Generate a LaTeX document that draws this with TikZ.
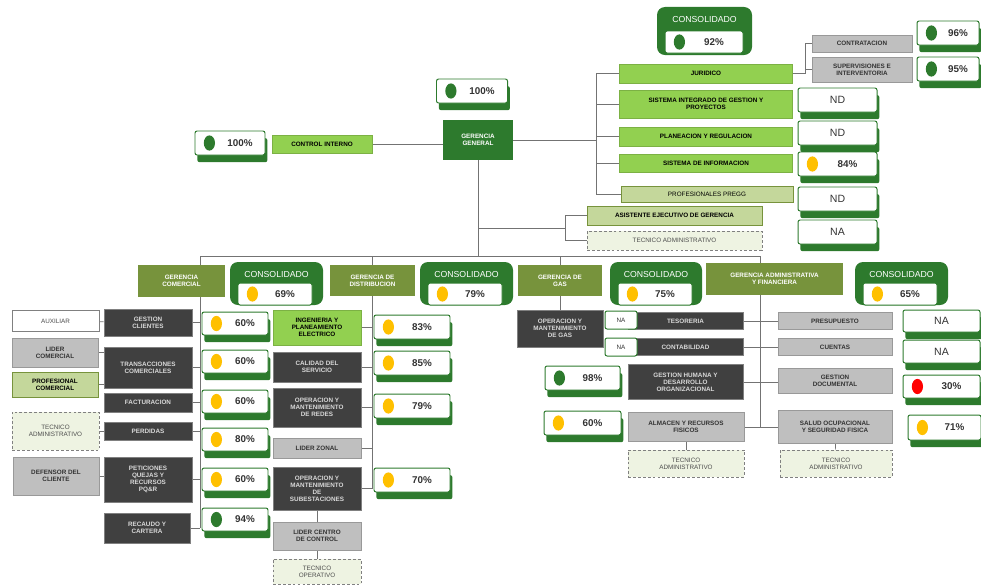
\documentclass[tikz,border=0pt]{standalone}
\usepackage{fontspec}
\setmainfont{Liberation Sans}
\usepackage{tikz}
\usetikzlibrary{shadows,backgrounds,positioning}
\definecolor{dgreen}{HTML}{2D7A2D}
\definecolor{lgreen}{HTML}{92D050}
\definecolor{olive}{HTML}{77933C}
\definecolor{lolive}{HTML}{C4D79B}
\definecolor{dgray}{HTML}{404040}
\definecolor{lgray}{HTML}{BFBFBF}
\definecolor{pale}{HTML}{EEF3E2}
\definecolor{ylw}{HTML}{FFC000}
\definecolor{rd}{HTML}{FF0000}

\begin{document}
\begin{tikzpicture}[x=0.25mm, y=-0.25mm,
	every node/.style={align=center, inner sep=1pt, font=\fontsize{4.5}{5}\selectfont\bfseries},
	sz/.style 2 args={minimum width=#1*0.25mm, minimum height=#2*0.25mm},
	lgr/.style={fill=lgreen, draw=lgreen!85!black},
	olv/.style={fill=olive, text=white},
	pal/.style={fill=lolive, draw=olive, line width=0.6pt},
	drk/.style={fill=dgray, draw=gray, text=white!85!black},
	gry/.style={fill=lgray, draw=gray!80, text=black!80},
	dsh/.style={fill=pale, draw=gray, dash pattern=on 2pt off 1.5pt, text=black!70, font=\fontsize{4.5}{5}\selectfont},
	ind/.style={fill=white, draw=dgreen, line width=0.7pt, rounded corners=1.5pt, text=black!80, font=\fontsize{7}{8}\selectfont\bfseries},
	sh/.style={general shadow={fill=dgreen, shadow xshift=0.6mm, shadow yshift=-1.8mm}},
	bul/.style={execute at begin node=\hspace*{5mm}, path picture={\fill[#1] ([xshift=3.6mm]path picture bounding box.west) ellipse [x radius=1.4mm, y radius=1.9mm];}},
	nd/.style={ind, sh, font=\fontsize{7.5}{8}\selectfont},
	cons/.style={fill=dgreen, rounded corners=2mm, text=white, font=\fontsize{6.2}{7}\selectfont, text height=3.4mm, text depth=#1},
	ln/.style={draw=black!55, line width=0.5pt}]
\useasboundingbox (0,0) rectangle (981,586);

\node[cons=7.9mm, sz={95}{1}] (cs0) at (704.5,31) {CONSOLIDADO};
\node[ind, bul=dgreen, sz={78}{22}] (cv0) at (704,42) {92\%};
\node[fill=dgreen, text=white, sz={70}{40}] (gg) at (478,140) {GERENCIA\\GENERAL};
\node[ind, sh, bul=dgreen, sz={71}{24}] (igg) at (472,91) {100\%};
\node[lgr, sz={100}{18}] (ci) at (322,144) {CONTROL INTERNO};
\node[ind, sh, bul=dgreen, sz={70}{24}] (ici) at (230,143) {100\%};

\node[lgr, sz={173}{19}] (jur) at (706,73.5) {JURIDICO};
\node[lgr, sz={173}{28}] (sig) at (706,104) {SISTEMA INTEGRADO DE GESTION Y\\PROYECTOS};
\node[lgr, sz={173}{19}] (pla) at (706,136.5) {PLANEACION Y REGULACION};
\node[lgr, sz={173}{18}] (sin) at (706,163) {SISTEMA DE INFORMACION};
\node[pal, sz={172}{16}, font=\fontsize{4.5}{5}\selectfont] (pre) at (707,194) {PROFESIONALES PREGG};
\node[gry, sz={100}{17}] (ctr) at (862,43.5) {CONTRATACION};
\node[gry, sz={100}{25}] (sup) at (862,69.5) {SUPERVISIONES E\\INTERVENTORIA};
\node[ind, sh, bul=dgreen, sz={62}{24}] (i96) at (948,33) {96\%};
\node[ind, sh, bul=dgreen, sz={62}{24}] (i95) at (948,69) {95\%};
\node[nd, sz={79}{24}] (nd1) at (837.5,100) {ND};
\node[nd, sz={79}{24}] (nd2) at (837.5,133) {ND};
\node[ind, sh, bul=ylw, sz={79}{24}] (i84) at (837.5,164) {84\%};
\node[nd, sz={79}{24}] (nd3) at (837.5,199) {ND};
\node[nd, sz={79}{24}] (na0) at (837.5,232) {NA};
\node[pal, sz={175}{19}] (ase) at (674.5,215.5) {ASISTENTE EJECUTIVO DE GERENCIA};
\node[dsh, sz={175}{19}] (tad0) at (674.5,240.5) {TECNICO ADMINISTRATIVO};

\node[olv, sz={87}{32}] (gco) at (181.5,281) {GERENCIA\\COMERCIAL};
\node[cons=6.65mm, sz={93}{1}] (cs1) at (276.5,283.5) {CONSOLIDADO};
\node[ind, bul=ylw, sz={74}{22}] (cv1) at (275,294) {69\%};
\node[olv, sz={85}{31}] (gdi) at (372.5,280.5) {GERENCIA DE\\DISTRIBUCION};
\node[cons=6.65mm, sz={93}{1}] (cs2) at (466.5,283.5) {CONSOLIDADO};
\node[ind, bul=ylw, sz={74}{22}] (cv2) at (465,294) {79\%};
\node[olv, sz={84}{31}] (gga) at (560,280.5) {GERENCIA DE\\GAS};
\node[cons=6.65mm, sz={92}{1}] (cs3) at (656,283.5) {CONSOLIDADO};
\node[ind, bul=ylw, sz={74}{22}] (cv3) at (655,294) {75\%};
\node[olv, sz={137}{32}] (gad) at (774.5,279) {GERENCIA ADMINISTRATIVA\\Y FINANCIERA};
\node[cons=6.65mm, sz={93}{1}] (cs4) at (901.5,283.5) {CONSOLIDADO};
\node[ind, bul=ylw, sz={74}{22}] (cv4) at (900,294) {65\%};

\node[drk, sz={88}{27}] (gcl) at (148,322.5) {GESTION\\CLIENTES};
\node[drk, sz={88}{41}] (tco) at (148,367.5) {TRANSACCIONES\\COMERCIALES};
\node[drk, sz={88}{19}] (fac) at (148,402.5) {FACTURACION};
\node[drk, sz={88}{18}] (per) at (148,431) {PERDIDAS};
\node[drk, sz={88}{45}] (pqr) at (148,479.5) {PETICIONES\\QUEJAS Y\\RECURSOS\\PQ\&R};
\node[drk, sz={86}{30}] (rec) at (147,528) {RECAUDO Y\\CARTERA};
\node[fill=white, draw=gray, text=black!70, sz={87}{21}, font=\fontsize{4.5}{5}\selectfont] (aux) at (55.5,321) {AUXILIAR};
\node[gry, sz={86}{29}] (lco) at (55,352.5) {LIDER\\COMERCIAL};
\node[pal, sz={86}{25}] (pco) at (55,384.5) {PROFESIONAL\\COMERCIAL};
\node[dsh, sz={87}{38}] (tad1) at (55.5,431) {TECNICO\\ADMINISTRATIVO};
\node[gry, sz={86}{38}] (dcl) at (56,476) {DEFENSOR DEL\\CLIENTE};
\node[ind, sh, bul=ylw, sz={66}{23}] (c1) at (235,323.5) {60\%};
\node[ind, sh, bul=ylw, sz={66}{23}] (c2) at (235,361.5) {60\%};
\node[ind, sh, bul=ylw, sz={66}{23}] (c3) at (235,401.5) {60\%};
\node[ind, sh, bul=ylw, sz={66}{23}] (c4) at (235,439.5) {80\%};
\node[ind, sh, bul=ylw, sz={66}{23}] (c5) at (235,479.5) {60\%};
\node[ind, sh, bul=dgreen, sz={66}{23}] (c6) at (235,519.5) {94\%};

\node[lgr, sz={88}{35}] (iep) at (317,327.5) {INGENIERIA Y\\PLANEAMIENTO\\ELECTRICO};
\node[drk, sz={88}{30}] (cse) at (317,367) {CALIDAD DEL\\SERVICIO};
\node[drk, sz={88}{39}] (omr) at (317,407.5) {OPERACION Y\\MANTENIMIENTO\\DE REDES};
\node[gry, sz={88}{20}] (lzo) at (317,448) {LIDER ZONAL};
\node[drk, sz={88}{43}] (oms) at (317,488.5) {OPERACION Y\\MANTENIMIENTO\\DE\\SUBESTACIONES};
\node[gry, sz={88}{28}] (lcc) at (317,536) {LIDER CENTRO\\DE CONTROL};
\node[dsh, sz={88}{25}] (top) at (317,571.5) {TECNICO\\OPERATIVO};
\node[ind, sh, bul=ylw, sz={76}{24}] (d1) at (412,327) {83\%};
\node[ind, sh, bul=ylw, sz={76}{24}] (d2) at (412,363) {85\%};
\node[ind, sh, bul=ylw, sz={76}{24}] (d3) at (412,406) {79\%};
\node[ind, sh, bul=ylw, sz={76}{24}] (d4) at (412,480) {70\%};

\node[drk, sz={86}{37}] (ogm) at (560,328.5) {OPERACION Y\\MANTENIMIENTO\\DE GAS};
\node[drk, sz={115}{17}] (tes) at (685.5,321) {TESORERIA};
\node[drk, sz={115}{17}] (cnt) at (685.5,347) {CONTABILIDAD};
\node[drk, sz={115}{35}] (ghd) at (685.5,382) {GESTION HUMANA Y\\DESARROLLO\\ORGANIZACIONAL};
\node[gry, sz={116}{29}] (arf) at (686,427) {ALMACEN Y RECURSOS\\FISICOS};
\node[dsh, sz={116}{27}] (tad2) at (686,463.5) {TECNICO\\ADMINISTRATIVO};
\node[ind, sz={32}{18}, font=\fontsize{4.5}{5}\selectfont] (nas1) at (621,320) {NA};
\node[ind, sz={32}{18}, font=\fontsize{4.5}{5}\selectfont] (nas2) at (621,347) {NA};
\node[ind, sh, bul=dgreen, sz={75}{24}] (g98) at (582.5,378) {98\%};
\node[ind, sh, bul=ylw, sz={77}{24}] (g60) at (582.5,423) {60\%};

\node[gry, sz={114}{17}] (prs) at (835,321) {PRESUPUESTO};
\node[gry, sz={114}{17}] (cue) at (835,347) {CUENTAS};
\node[gry, sz={114}{25}] (gdo) at (835,381) {GESTION\\DOCUMENTAL};
\node[gry, sz={114}{33}] (sso) at (835,427) {SALUD OCUPACIONAL\\Y SEGURIDAD FISICA};
\node[dsh, sz={112}{27}] (tad3) at (836,463.5) {TECNICO\\ADMINISTRATIVO};
\node[nd, sz={77}{22}] (a1) at (941.5,321) {NA};
\node[nd, sz={77}{23}] (a2) at (941.5,351.5) {NA};
\node[ind, sh, bul=rd, sz={77}{23}] (a3) at (941.5,386.5) {30\%};
\node[ind, sh, bul=ylw, sz={73}{25}] (a4) at (944.5,427.5) {71\%};

\coordinate (bc) at (200,256);
\coordinate (bd) at (372,256);
\coordinate (bg) at (560,256);
\coordinate (ba) at (760,256);
\coordinate (gr) at (596,140);
\coordinate (jr) at (805,56);
\coordinate (as) at (565,228);

\begin{scope}[on background layer]
	\path[ln] (bc) -- (ba);
	\path[ln] (gg) -- (gg |- bc);
	\path[ln] (ci) -- (ci -| gg);
	\path[ln] (gg) -- (gr);
	\path[ln] (gr |- jur) -- (gr |- pre);
	\path[ln] (gr |- jur) -- (jur);
	\path[ln] (gr |- sig) -- (sig);
	\path[ln] (gr |- pla) -- (pla);
	\path[ln] (gr |- sin) -- (sin);
	\path[ln] (gr |- pre) -- (pre);
	\path[ln] (jur) -- (jur -| jr);
	\path[ln] (jr |- ctr) -- (jr |- jur);
	\path[ln] (jr |- ctr) -- (ctr);
	\path[ln] (jr |- sup) -- (sup);
	\path[ln] (gg |- as) -- (as);
	\path[ln] (as |- ase) -- (as |- tad0);
	\path[ln] (as |- ase) -- (ase);
	\path[ln] (as |- tad0) -- (tad0);

	\path[ln] (bc) -- (bc |- rec);
	\path[ln] (gcl) -- (gcl -| bc);
	\path[ln] (tco) -- (tco -| bc);
	\path[ln] (fac) -- (fac -| bc);
	\path[ln] (per) -- (per -| bc);
	\path[ln] (pqr) -- (pqr -| bc);
	\path[ln] (rec) -- (rec -| bc);
	\path[ln] (aux) -- (gcl);
	\path[ln] (lco) -- (lco -| tco);
	\path[ln] (pco) -- (pco -| tco);
	\path[ln] (tad1) -- (per);
	\path[ln] (dcl) -- (dcl -| pqr);

	\path[ln] (bd) -- (bd |- oms);
	\path[ln] (iep) -- (iep -| bd);
	\path[ln] (cse) -- (cse -| bd);
	\path[ln] (omr) -- (omr -| bd);
	\path[ln] (lzo) -- (lzo -| bd);
	\path[ln] (oms) -- (oms -| bd);
	\path[ln] (oms) -- (top);

	\path[ln] (bg) -- (ogm);
	\path[ln] (ba) -- (ba |- arf);
	\path[ln] (tes) -- (prs);
	\path[ln] (cnt) -- (cue);
	\path[ln] (ghd) -- (ghd -| gdo);
	\path[ln] (arf) -- (sso);
	\path[ln] (arf) -- (tad2);
	\path[ln] (sso) -- (tad3);
\end{scope}
\end{tikzpicture}
\end{document}
